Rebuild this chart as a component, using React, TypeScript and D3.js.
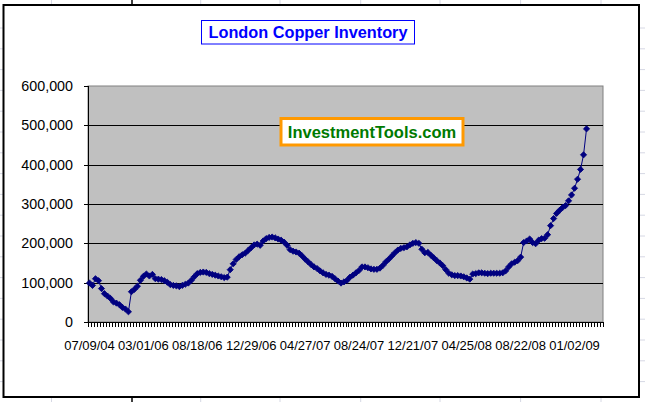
import React from "react";
import * as d3 from "d3";

const W = 645;
const H = 402;

// LME copper stocks, thousand tonnes (one value per category; trailing blanks = empty rows)
const inventoryK: (number | null)[] = [
  99, 93, 110, 105, 85, 72, 66, 60, 51, 48, 44, 37, 33, 26,
  77, 83, 91, 106, 116, 122, 117, 121, 110, 109, 108, 105, 101,
  95, 93, 92, 90, 93, 96, 99, 106, 115, 123, 126, 127, 126, 123, 121, 119, 117, 115, 113, 114,
  133, 148, 159, 166, 171, 175, 182, 189, 196, 198, 195, 206, 212, 215, 216, 214, 211, 208, 203, 195,
  184, 180, 178, 175, 168, 160, 153, 146, 140, 136, 130, 125, 121, 119, 116, 110, 104, 99, 102, 106,
  114, 119, 125, 131, 140, 140, 138, 135, 134, 134, 137, 144, 153, 160, 168, 176, 183, 187, 189, 191, 196, 200, 202, 200,
  185, 176, 177, 170, 163, 156, 150, 143, 133, 124, 120, 118, 118, 117, 115, 112, 109, 122, 123, 125,
  125, 124, 123, 124, 124, 124, 124, 125, 130, 140, 148, 152, 156, 165, 202, 206, 211, 202, 199, 208,
  212, 213, 222, 245, 263, 276, 284, 291, 296, 308, 323, 340, 363, 388, 425, 491,
  null, null, null, null, null,
];

const xTickLabels = [
  "07/09/04", "03/01/06", "08/18/06", "12/29/06", "04/27/07",
  "08/24/07", "12/21/07", "04/25/08", "08/22/08", "01/02/09",
];
const LABEL_EVERY = 18;

const yTickValues = [0, 100000, 200000, 300000, 400000, 500000, 600000];

const sheetCols = [51.5, 200.7, 280, 360.7, 440, 520.6, 601];
const sheetRows = d3.range(28, 402, 20.8);

const FONT = "'Liberation Sans', Arial, Helvetica, sans-serif";

export default function App() {
  const plot = { left: 88, right: 603, top: 86, bottom: 322 };
  const x = d3
    .scaleBand<number>()
    .domain(d3.range(inventoryK.length))
    .range([plot.left, plot.right])
    .paddingInner(0)
    .paddingOuter(0);
  const y = d3.scaleLinear().domain([0, 600000]).range([plot.bottom, plot.top]);
  const cx = (i: number) => (x(i) as number) + x.bandwidth() / 2;

  const pts = inventoryK
    .map((v, i) => (v == null ? null : ([cx(i), y(v * 1000)] as [number, number])))
    .filter((p): p is [number, number] => p !== null);

  const linePath = d3.line<[number, number]>().x((d) => d[0]).y((d) => d[1])(pts) || "";
  const marker = d3.symbol().type(d3.symbolSquare).size(19)() || "";
  const fmt = d3.format(",");
  const tickEdges = d3.range(inventoryK.length + 1).map((i) =>
    i < inventoryK.length ? (x(i) as number) : plot.right
  );

  return (
    <svg
      width={W}
      height={H}
      style={{ position: "absolute", left: 0, top: 0, background: "#fff" }}
      fontFamily={FONT}
    >
      {/* spreadsheet grid behind the chart */}
      {sheetCols.map((c) => (
        <line key={"c" + c} x1={c} x2={c} y1={0} y2={H} stroke="#D6D8E4" strokeWidth={1} />
      ))}
      {sheetRows.map((r) => (
        <line key={"r" + r} x1={0} x2={W} y1={r} y2={r} stroke="#D6D8E4" strokeWidth={1} />
      ))}
      <line x1={132} x2={132} y1={0} y2={H} stroke="#000" strokeWidth={1.5} />

      {/* chart area */}
      <rect x={3.5} y={5} width={635.5} height={392} fill="#fff" stroke="#000" strokeWidth={2} />

      {/* title */}
      <rect x={201.5} y={20.5} width={213} height={23.5} fill="#fff" stroke="#0000FF" strokeWidth={1} />
      <text x={308} y={38} textAnchor="middle" fontSize={16.3} fontWeight="bold" fill="#0000FF">
        London Copper Inventory
      </text>

      {/* plot area */}
      <rect
        x={plot.left}
        y={plot.top}
        width={plot.right - plot.left}
        height={plot.bottom - plot.top}
        fill="#C0C0C0"
        stroke="#808080"
        strokeWidth={1}
      />
      {yTickValues
        .filter((v) => v > 0 && v < 600000)
        .map((v) => (
          <line
            key={"g" + v}
            x1={plot.left}
            x2={plot.right}
            y1={Math.round(y(v)) + 0.5}
            y2={Math.round(y(v)) + 0.5}
            stroke="#000"
            strokeWidth={1}
          />
        ))}

      {/* y axis */}
      <line x1={plot.left + 0.5} x2={plot.left + 0.5} y1={plot.top} y2={plot.bottom} stroke="#000" />
      {yTickValues.map((v) => (
        <g key={"yt" + v}>
          <line
            x1={plot.left - 4}
            x2={plot.left}
            y1={Math.round(y(v)) + 0.5}
            y2={Math.round(y(v)) + 0.5}
            stroke="#000"
          />
          <text x={73} y={y(v) + 5} textAnchor="end" fontSize={14.3} fill="#000">
            {fmt(v)}
          </text>
        </g>
      ))}

      {/* x axis */}
      <line x1={plot.left} x2={plot.right} y1={plot.bottom + 0.5} y2={plot.bottom + 0.5} stroke="#000" />
      {tickEdges.map((tx, i) => (
        <line
          key={"xt" + i}
          x1={Math.round(tx) + 0.5}
          x2={Math.round(tx) + 0.5}
          y1={plot.bottom}
          y2={plot.bottom + 5}
          stroke="#000"
        />
      ))}
      {xTickLabels.map((lab, k) => (
        <text
          key={lab}
          x={cx(k * LABEL_EVERY)}
          y={349.5}
          textAnchor="middle"
          fontSize={13}
          fill="#000"
        >
          {lab}
        </text>
      ))}

      {/* series */}
      <path d={linePath} fill="none" stroke="#000080" strokeWidth={1} />
      {pts.map((p, i) => (
        <path
          key={"m" + i}
          d={marker}
          transform={`translate(${p[0]},${p[1]}) rotate(45)`}
          fill="#000080"
          stroke="#000080"
          strokeWidth={0.8}
        />
      ))}

      {/* watermark */}
      <rect x={281} y={118.5} width={182} height={26.5} fill="#fff" stroke="#FF9900" strokeWidth={3} />
      <text x={372} y={138} textAnchor="middle" fontSize={16.5} fontWeight="bold" fill="#007A00">
        InvestmentTools.com
      </text>
    </svg>
  );
}
